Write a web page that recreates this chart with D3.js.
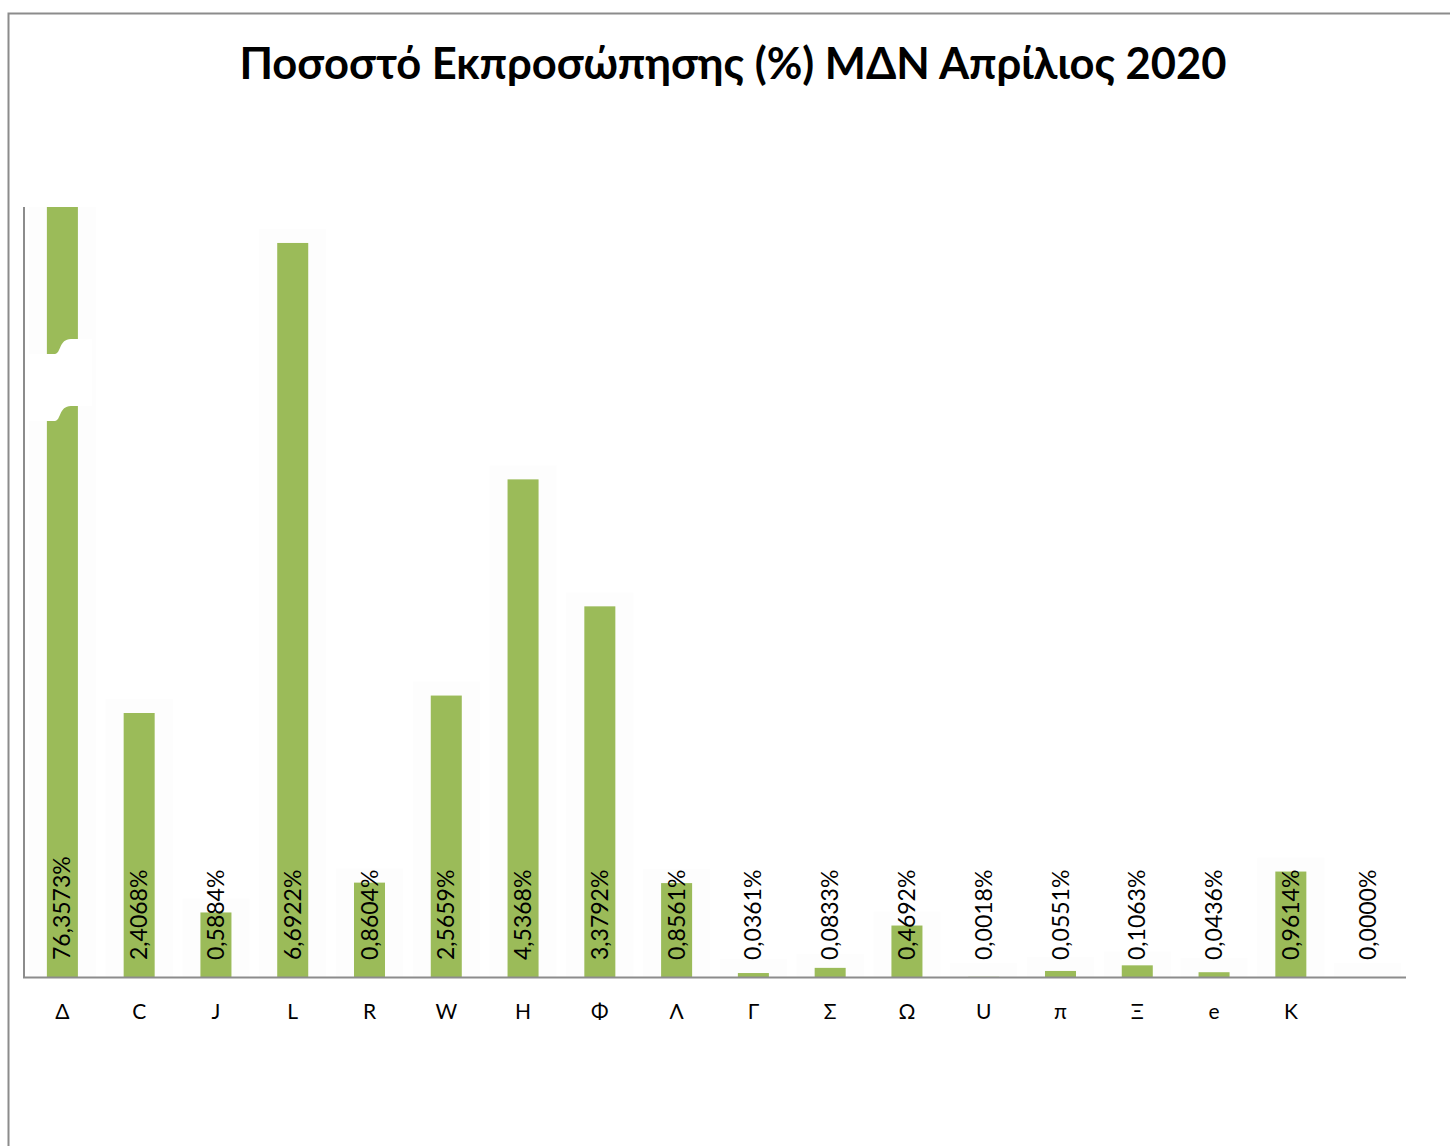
<!DOCTYPE html>
<html>
<head>
<meta charset="utf-8">
<script src="https://cdn.jsdelivr.net/npm/d3@7"></script>
<style>
  body { margin: 0; background: #fff; }
  text { font-family: Lato, "Open Sans", sans-serif; }
</style>
</head>
<body>
<svg id="chart"></svg>
<script>
// Ποσοστό Εκπροσώπησης ΜΔΝ - bar chart with broken first bar

const categories = ["Δ", "C", "J", "L", "R", "W", "H", "Φ", "Λ", "Γ", "Σ", "Ω", "U", "π", "Ξ", "e", "K", ""];
const values = [76.3573, 2.4068, 0.5884, 6.6922, 0.8604, 2.5659, 4.5368, 3.3792, 0.8561,
                0.0361, 0.0833, 0.4692, 0.0018, 0.0551, 0.1063, 0.0436, 0.9614, 0.0000];
const titleText = "Ποσοστό Εκπροσώπησης (%) ΜΔΝ Απρίλιος 2020";

const width = 1450;
const height = 1146;

const svg = d3.select("#chart")
    .attr("width", width)
    .attr("height", height);

// outer chart frame (only top and left edges visible)
svg.append("path")
    .attr("d", "M8.5,1146 L8.5,13.5 L1450,13.5")
    .attr("fill", "none")
    .attr("stroke", "#8c8c8c")
    .attr("stroke-width", 2);

svg.append("text")
    .attr("x", 733)
    .attr("y", 79)
    .attr("text-anchor", "middle")
    .attr("font-size", 43.5)
    .attr("font-weight", "bold")
    .attr("fill", "#000")
    .text(titleText);

const x = d3.scaleBand()
    .domain(d3.range(categories.length))
    .range([24, 1406])
    .paddingInner(0.596)
    .paddingOuter(0.298);

const y = d3.scaleLinear()
    .domain([0, 7.02])
    .range([977, 207])
    .clamp(true);

const fmt = v => d3.format(".4f")(v).replace(".", ",") + "%";

const idx = d3.range(categories.length);

// faint halo behind the bars
svg.selectAll("rect.halo")
    .data(idx)
    .enter().append("rect")
    .attr("class", "halo")
    .attr("x", i => x(i) - 18)
    .attr("y", i => Math.max(207, y(values[i]) - 14))
    .attr("width", x.bandwidth() + 36)
    .attr("height", i => 977 - Math.max(207, y(values[i]) - 14))
    .attr("fill", "#fdfdfd");

svg.selectAll("rect.bar")
    .data(idx)
    .enter().append("rect")
    .attr("class", "bar")
    .attr("x", i => x(i))
    .attr("y", i => y(values[i]))
    .attr("width", x.bandwidth())
    .attr("height", i => 977 - y(values[i]))
    .attr("fill", "#9bbb59");

// axis break on the first bar
const bx = x(0);
svg.append("path")
    .attr("d", `M${bx - 19},354 L${bx + 8},354 C${bx + 14},354 ${bx + 12},339 ${bx + 24},339 ` +
               `L${bx + 45},339 L${bx + 45},406 L${bx + 24},406 C${bx + 12},406 ${bx + 14},421 ${bx + 8},421 ` +
               `L${bx - 19},421 Z`)
    .attr("fill", "#fff");

// axes lines
svg.append("line")
    .attr("x1", 24).attr("x2", 24)
    .attr("y1", 207).attr("y2", 977)
    .attr("stroke", "#8c8c8c").attr("stroke-width", 2);

const xAxis = svg.append("g")
    .attr("transform", "translate(0,977)")
    .call(d3.axisBottom(x).tickSize(0).tickPadding(27).tickFormat(i => categories[i]));
xAxis.select(".domain")
    .attr("d", "M23,0.5H1406")
    .attr("stroke", "#8c8c8c")
    .attr("stroke-width", 2);
xAxis.selectAll("text")
    .attr("font-size", 21)
    .attr("font-family", "Lato, sans-serif")
    .attr("fill", "#000");

// value labels, rotated
svg.selectAll("text.val")
    .data(idx)
    .enter().append("text")
    .attr("class", "val")
    .attr("transform", i => `translate(${x(i) + x.bandwidth() / 2},960) rotate(-90)`)
    .attr("dy", "0.35em")
    .attr("font-size", 23)
    .attr("fill", "#000")
    .text(i => fmt(values[i]));
</script>
</body>
</html>
